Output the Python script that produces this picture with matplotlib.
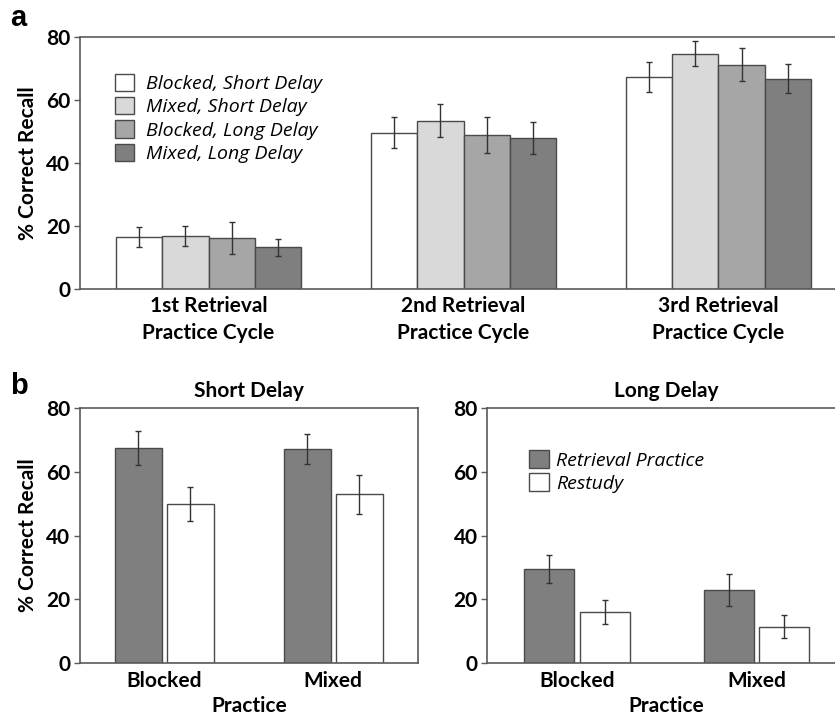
import numpy as np
import matplotlib
matplotlib.use("Agg")
import matplotlib.pyplot as plt
from matplotlib.patches import Patch

# panel a: recall on each retrieval practice cycle
cycles = ["1st Retrieval\nPractice Cycle", "2nd Retrieval\nPractice Cycle", "3rd Retrieval\nPractice Cycle"]
cond_names = ["Blocked, Short Delay", "Mixed, Short Delay", "Blocked, Long Delay", "Mixed, Long Delay"]
blocked_short = [16.6, 49.6, 67.3]
blocked_short_err = [3.2, 4.9, 4.9]
mixed_short = [16.9, 53.4, 74.7]
mixed_short_err = [3.2, 5.2, 4.0]
blocked_long = [16.1, 49.0, 71.2]
blocked_long_err = [5.1, 5.7, 5.3]
mixed_long = [13.2, 48.0, 66.8]
mixed_long_err = [2.8, 5.0, 4.7]

# panel b: final test
practice = ["Blocked", "Mixed"]
short_rp = [67.5, 67.0]
short_rp_err = [5.4, 4.7]
short_restudy = [49.9, 52.9]
short_restudy_err = [5.2, 6.0]
long_rp = [29.5, 22.8]
long_rp_err = [4.3, 5.0]
long_restudy = [16.1, 11.4]
long_restudy_err = [3.8, 3.6]

W, H = 835, 716
LABEL_FONT = "Lato"
LEG_FONT = "Open Sans"
FS = 15
SPINE = "#5a5a5a"
EDGE = "#4a4a4a"
grays = ["#ffffff", "#d9d9d9", "#a6a6a6", "#7f7f7f"]
RP_COLOR = "#7f7f7f"


def px_axes(fig, left, top, right, bottom):
    return fig.add_axes([left / W, 1 - bottom / H, (right - left) / W, (bottom - top) / H])


def style_axes(ax):
    for s in ax.spines.values():
        s.set_color(SPINE)
        s.set_linewidth(1.2)
    ax.set_ylim(0, 80)
    ax.set_yticks([0, 20, 40, 60, 80])
    ax.tick_params(axis="y", direction="out", length=4, width=1, color=SPINE, pad=3)
    ax.tick_params(axis="x", length=0)
    for lab in ax.get_yticklabels() + ax.get_xticklabels():
        lab.set_fontfamily(LABEL_FONT)
        lab.set_fontweight("bold")
        lab.set_fontsize(FS)


fig = plt.figure(figsize=(W / 100, H / 100), dpi=100)

# ---- panel a ----
ax = px_axes(fig, 80, 37, 847, 289)
x = np.arange(len(cycles))
bw = 0.1816
series = [(blocked_short, blocked_short_err), (mixed_short, mixed_short_err),
          (blocked_long, blocked_long_err), (mixed_long, mixed_long_err)]
for i, (vals, errs) in enumerate(series):
    pos = x + (i - 1.5) * bw
    ax.bar(pos, vals, width=bw, color=grays[i], edgecolor=EDGE, linewidth=1, zorder=2)
    ax.errorbar(pos, vals, yerr=errs, fmt="none", ecolor="#333333", elinewidth=1,
                capsize=2.5, capthick=1, zorder=3)
ax.set_xlim(-0.504, 2.504)
ax.set_xticks(x)
ax.set_xticklabels(cycles, linespacing=1.45)
ax.tick_params(axis="x", pad=5)
style_axes(ax)
ax.set_ylabel("% Correct Recall", fontfamily=LABEL_FONT, fontweight="bold", fontsize=FS, labelpad=6)
handles = [Patch(facecolor=grays[i], edgecolor=EDGE, linewidth=1) for i in range(4)]
ax.legend(handles, cond_names, loc="upper left", bbox_to_anchor=(0.035, 0.885), frameon=False,
          prop={"family": LEG_FONT, "style": "italic", "size": 14},
          handlelength=1.0, handleheight=1.0, handletextpad=0.6, labelspacing=0.2, borderaxespad=0)

# ---- panel b ----
panels = [
    (80, 417.7, "Short Delay", short_rp, short_rp_err, short_restudy, short_restudy_err, True),
    (487.3, 846, "Long Delay", long_rp, long_rp_err, long_restudy, long_restudy_err, False),
]
xb = np.arange(len(practice))
for left, right, title, rp, rp_err, rs, rs_err, first in panels:
    axb = px_axes(fig, left, 408, right, 663)
    bwb = 0.279
    off = 0.154
    axb.bar(xb - off, rp, width=bwb, color=RP_COLOR, edgecolor=EDGE, linewidth=1, zorder=2)
    axb.bar(xb + off, rs, width=bwb, color="#ffffff", edgecolor=EDGE, linewidth=1, zorder=2)
    axb.errorbar(xb - off, rp, yerr=rp_err, fmt="none", ecolor="#333333", elinewidth=1,
                 capsize=2.5, capthick=1, zorder=3)
    axb.errorbar(xb + off, rs, yerr=rs_err, fmt="none", ecolor="#333333", elinewidth=1,
                 capsize=2.5, capthick=1, zorder=3)
    axb.set_xlim(-0.5, 1.5)
    axb.set_xticks(xb)
    axb.set_xticklabels(practice)
    axb.tick_params(axis="x", pad=6)
    style_axes(axb)
    axb.set_xlabel("Practice", fontfamily=LABEL_FONT, fontweight="bold", fontsize=FS, labelpad=3)
    axb.set_title(title, fontfamily=LABEL_FONT, fontweight="bold", fontsize=FS, pad=8)
    if first:
        axb.set_ylabel("% Correct Recall", fontfamily=LABEL_FONT, fontweight="bold", fontsize=FS, labelpad=6)
    else:
        h2 = [Patch(facecolor=RP_COLOR, edgecolor=EDGE, linewidth=1),
              Patch(facecolor="#ffffff", edgecolor=EDGE, linewidth=1)]
        axb.legend(h2, ["Retrieval Practice", "Restudy"], loc="upper left",
                   bbox_to_anchor=(0.095, 0.865), frameon=False,
                   prop={"family": LEG_FONT, "style": "italic", "size": 14},
                   handlelength=1.0, handleheight=1.0, handletextpad=0.4, labelspacing=0.2,
                   borderaxespad=0)

fig.text(10 / W, 1 - 18 / H, "a", fontfamily="Liberation Sans", fontweight="bold", fontsize=21, va="center")
fig.text(10 / W, 1 - 386 / H, "b", fontfamily="Liberation Sans", fontweight="bold", fontsize=21, va="center")

fig.savefig("out.png", dpi=100)
